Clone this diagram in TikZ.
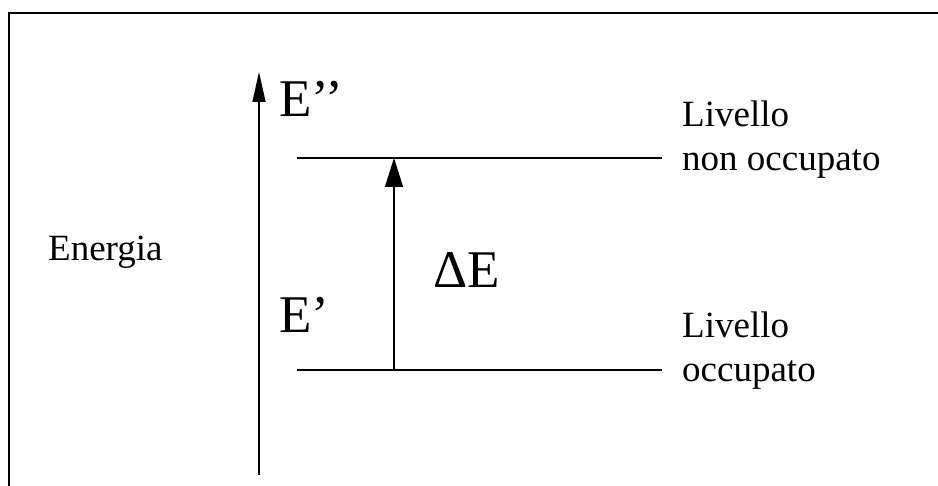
\documentclass[tikz,border=0pt]{standalone}
\usepackage{fontspec}
\setmainfont{Liberation Serif}
\usetikzlibrary{arrows.meta}
\begin{document}
\begin{tikzpicture}[x=1pt,y=-1pt,
  lbl/.style={inner sep=0pt, anchor=base west, font=\fontsize{37}{44}\selectfont},
  big/.style={inner sep=0pt, anchor=base west, font=\fontsize{53}{60}\selectfont},
  level/.style={line width=1.6pt},
  axisarrow/.style={line width=1.5pt, -{Triangle[length=30pt,width=13pt]}},
  transarrow/.style={line width=1.5pt, -{Triangle[length=29pt,width=18pt]}},
  framing/.style={line width=2pt}]
\useasboundingbox (0,0) rectangle (938,486);
% frame
\coordinate (frBL) at (9,486);
\coordinate (frTL) at (9,13);
\coordinate (frTR) at (938,13);
\draw[framing] (frBL) -- (frTL) -- (frTR);
% energy axis
\coordinate (axBot) at (259,475);
\coordinate (axTop) at (259,72);
\draw[axisarrow] (axBot) -- (axTop);
% levels
\coordinate (upL) at (297,158);
\coordinate (upR) at (662,158);
\coordinate (loL) at (297,370);
\coordinate (loR) at (662,370);
\draw[level] (upL) -- (upR);
\draw[level] (loL) -- (loR);
% transition
\coordinate (trBot) at (394,370);
\coordinate (trTop) at (394,158);
\draw[transarrow] (trBot) -- (trTop);
% labels
\node[lbl] (energia) at (48,261) {Energia};
\node[big] (Epp) at (279,117) {E’’};
\node[big] (Ep) at (279,333) {E’};
\node[big] (dE) at (433,288) {ΔE};
\node[lbl] (upA) at (682,127) {Livello};
\node[lbl] (upB) at (682,171) {non occupato};
\node[lbl] (loA) at (682,338) {Livello};
\node[lbl] (loB) at (682,382) {occupato};
\end{tikzpicture}
\end{document}
